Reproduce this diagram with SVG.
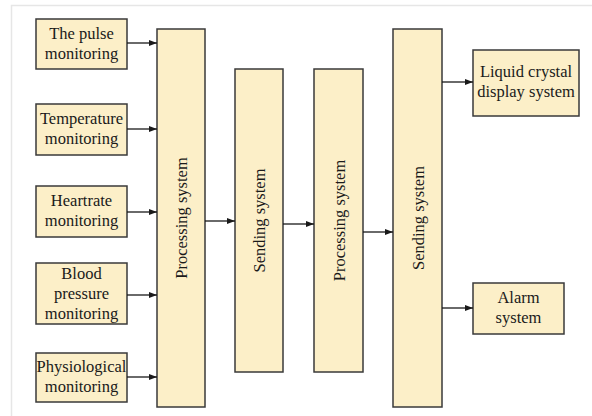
<svg xmlns="http://www.w3.org/2000/svg" width="592" height="416" viewBox="0 0 592 416">
<defs>
<marker id="ah" viewBox="0 0 8 6" refX="8" refY="3" markerWidth="8" markerHeight="6" markerUnits="userSpaceOnUse" orient="auto">
<path d="M0,0 L8,3 L0,6 z" fill="#1a1a1a"/>
</marker>
</defs>
<style>
.b{fill:#fcefc8;stroke:#3a3a3a;stroke-width:1.5}
.t{font-family:"Liberation Serif","Times New Roman",serif;font-size:16.5px;fill:#1a1a1a;text-anchor:middle}
.c{stroke:#1a1a1a;stroke-width:1.3;fill:none;marker-end:url(#ah)}
</style>
<rect width="592" height="416" fill="#fff"/>
<path d="M11.5,416 V5.5 H592" fill="none" stroke="#e6e6e6" stroke-width="1.5"/>
<g id="pulse"><rect class="b" x="36" y="19" width="91" height="50"/><text class="t" x="81.5" y="39">The pulse</text><text class="t" x="81.5" y="59">monitoring</text></g>
<g id="temp"><rect class="b" x="36" y="104" width="91" height="51"/><text class="t" x="81.5" y="124">Temperature</text><text class="t" x="81.5" y="144">monitoring</text></g>
<g id="heart"><rect class="b" x="36" y="186" width="91" height="51"/><text class="t" x="81.5" y="206">Heartrate</text><text class="t" x="81.5" y="226">monitoring</text></g>
<g id="blood"><rect class="b" x="36" y="263" width="91" height="61"/><text class="t" x="81.5" y="279">Blood</text><text class="t" x="81.5" y="299">pressure</text><text class="t" x="81.5" y="319">monitoring</text></g>
<g id="physio"><rect class="b" x="36" y="353" width="91" height="49"/><text class="t" x="81.5" y="372">Physiological</text><text class="t" x="81.5" y="392">monitoring</text></g>
<g id="proc1"><rect class="b" x="157" y="29" width="48" height="378"/><text class="t" transform="translate(187,218) rotate(-90)">Processing system</text></g>
<g id="send1"><rect class="b" x="235" y="69" width="48" height="303"/><text class="t" transform="translate(265,220.5) rotate(-90)">Sending system</text></g>
<g id="proc2"><rect class="b" x="314" y="69" width="49" height="303"/><text class="t" transform="translate(344.5,220.5) rotate(-90)">Processing system</text></g>
<g id="send2"><rect class="b" x="393" y="29" width="49" height="378"/><text class="t" transform="translate(423.5,218) rotate(-90)">Sending system</text></g>
<g id="lcd"><rect class="b" x="473" y="50" width="106" height="66"/><text class="t" x="526" y="77">Liquid crystal</text><text class="t" x="526" y="97">display system</text></g>
<g id="alarm"><rect class="b" x="473" y="283" width="91" height="51"/><text class="t" x="518.5" y="303">Alarm</text><text class="t" x="518.5" y="323">system</text></g>
<g id="connectors">
<line class="c" x1="127" y1="43" x2="157" y2="43"/>
<line class="c" x1="127" y1="129" x2="157" y2="129"/>
<line class="c" x1="127" y1="212" x2="157" y2="212"/>
<line class="c" x1="127" y1="295" x2="157" y2="295"/>
<line class="c" x1="127" y1="377" x2="157" y2="377"/>
<line class="c" x1="205" y1="221" x2="235" y2="221"/>
<line class="c" x1="283" y1="224" x2="314" y2="224"/>
<line class="c" x1="363" y1="232" x2="393" y2="232"/>
<line class="c" x1="442" y1="82" x2="473" y2="82"/>
<line class="c" x1="442" y1="308" x2="473" y2="308"/>
</g>
</svg>
